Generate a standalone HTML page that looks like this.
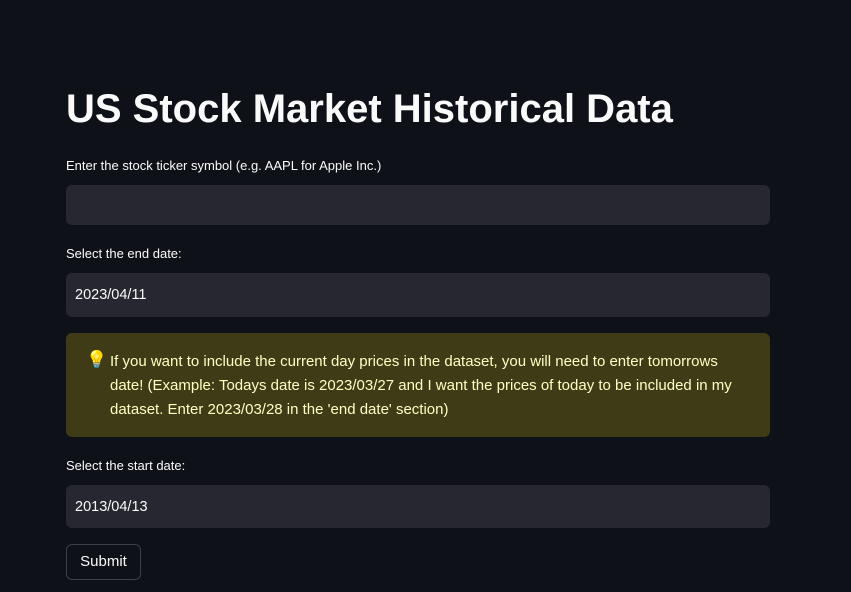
<!DOCTYPE html>
<html><head><meta charset="utf-8"><style>
body{margin:0;width:851px;height:592px;background:#0e1117;overflow:hidden;font-family:"Liberation Sans",sans-serif;color:#fafafa;position:relative}
.a{position:absolute;white-space:nowrap}
.title{left:66px;top:87px;font-size:40px;font-weight:bold;letter-spacing:0px}
.lbl{left:66px;font-size:13px}
.inp{left:66px;width:704px;background:#262730;border-radius:6px}
.val{left:75px;font-size:14.5px}
.info{left:66px;top:333px;width:704px;height:104px;background:#3e3b16;border-radius:6px}
.itxt{left:110px;top:350px;font-size:15px;line-height:24px;color:#ffffc2}
.btn{left:66px;top:544px;width:73px;height:34px;border:1px solid #3d3f47;border-radius:6px;font-size:15px;text-align:center;line-height:34px;background:#0e1117}
</style></head><body>
<div class="a title">US Stock Market Historical Data</div>
<div class="a lbl" style="top:158px">Enter the stock ticker symbol (e.g. AAPL for Apple Inc.)</div>
<div class="a inp" style="top:185px;height:40px"></div>
<div class="a lbl" style="top:246px">Select the end date:</div>
<div class="a inp" style="top:273px;height:44px"></div>
<div class="a val" style="top:287px">2023/04/11</div>
<div class="a info"></div>
<div class="a" style="left:86px;top:350px;font-size:17px">💡</div>
<div class="a itxt">If you want to include the current day prices in the dataset, you will need to enter tomorrows<br>date! (Example: Todays date is 2023/03/27 and I want the prices of today to be included in my<br>dataset. Enter 2023/03/28 in the 'end date' section)</div>
<div class="a lbl" style="top:458px">Select the start date:</div>
<div class="a inp" style="top:485px;height:43px"></div>
<div class="a val" style="top:499px">2013/04/13</div>
<div class="a btn">Submit</div>
</body></html>
